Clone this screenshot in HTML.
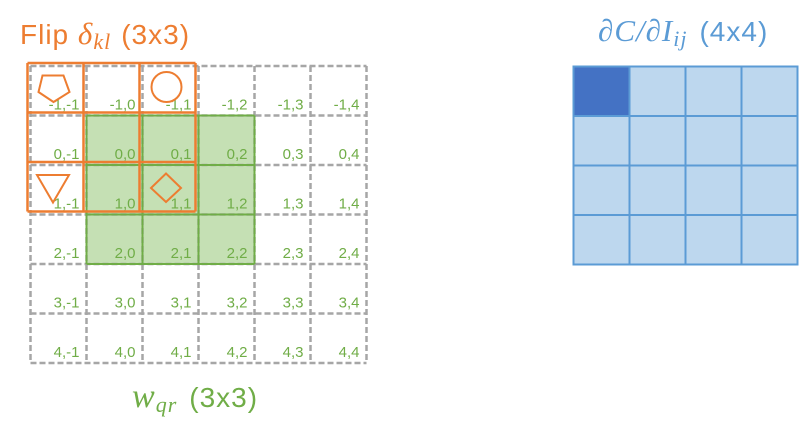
<!DOCTYPE html>
<html><head><meta charset="utf-8"><style>
html,body{margin:0;padding:0;background:#fff;}
svg{display:block;}
text{font-family:"Liberation Sans",sans-serif;}
</style></head><body>
<svg width="800" height="434" viewBox="0 0 800 434">
<g id="green-fill"></g>
<g id="dashed"></g>
<g id="green-lines"></g>
<g id="labels"></g>
<g id="orange"></g>
<g fill="none" stroke="#ed7d31" stroke-width="2">
  <polygon points="42.5,75.5 63.5,75.5 69.5,92 53.5,102 38.5,92"/>
  <circle cx="166.5" cy="87" r="15"/>
  <polygon points="37,175 69,175 53,202.5"/>
  <polygon points="166,173.5 181,188 166,202 151,188"/>
</g>
<g id="blue"></g>
<text x="20" y="44" font-size="28" fill="#ed7d31" letter-spacing="1">Flip <tspan font-family="Liberation Serif" font-style="italic" font-size="31">δ</tspan><tspan font-family="Liberation Serif" font-style="italic" font-size="22" dy="5">kl</tspan><tspan dy="-5" dx="10">(3x3)</tspan></text>
<text x="598" y="41" font-size="28" fill="#5b9bd5" letter-spacing="1"><tspan font-family="Liberation Serif" font-style="italic" font-size="31">∂C/∂I</tspan><tspan font-family="Liberation Serif" font-style="italic" font-size="22" dy="5">ij</tspan><tspan dy="-5" dx="12">(4x4)</tspan></text>
<text x="132" y="407" font-size="28" fill="#70ad47" letter-spacing="1"><tspan font-family="Liberation Serif" font-style="italic" font-size="34">w</tspan><tspan font-family="Liberation Serif" font-style="italic" font-size="22" dy="5">qr</tspan><tspan dy="-5" dx="12">(3x3)</tspan></text>
</svg>
<script>
const NS='http://www.w3.org/2000/svg';
const rows=[-1,0,1,2,3,4];
const cols=[-1,0,1,2,3,4];
const x0=30.5,y0=66,cw=56,ch=49.5;
function mk(tag,attrs,parent){const e=document.createElementNS(NS,tag);for(const k in attrs)e.setAttribute(k,attrs[k]);parent.appendChild(e);return e;}
const gf=document.getElementById('green-fill'),gd=document.getElementById('dashed'),gl=document.getElementById('green-lines'),lb=document.getElementById('labels'),go=document.getElementById('orange'),gb=document.getElementById('blue');
const r=mk('rect',{x:x0+cw,y:y0+ch,width:3*cw,height:3*ch,fill:'#c5e0b4'},gf);


for(let i=0;i<=6;i++){
  const a=mk('line',{x1:x0+i*cw,y1:y0,x2:x0+i*cw,y2:y0+6*ch,stroke:'#a6a6a6','stroke-width':2.5,'stroke-dasharray':'6,3'},gd);
  
  
  const b=mk('line',{x1:x0,y1:y0+i*ch,x2:x0+6*cw,y2:y0+i*ch,stroke:'#a6a6a6','stroke-width':2.5,'stroke-dasharray':'6,3'},gd);
  
  
}
for(let i=0;i<=3;i++){
  const a=mk('line',{x1:x0+(1+i)*cw,y1:y0+ch,x2:x0+(1+i)*cw,y2:y0+4*ch,stroke:'#70ad47','stroke-width':2},gl);
  
  
  const b=mk('line',{x1:x0+cw,y1:y0+(1+i)*ch,x2:x0+4*cw,y2:y0+(1+i)*ch,stroke:'#70ad47','stroke-width':2},gl);
  
  
}
rows.forEach((rv,ri)=>cols.forEach((cv,ci)=>{
  const t=mk('text',{x:x0+(ci+1)*cw-7,y:y0+(ri+1)*ch-6,'text-anchor':'end','font-size':15,fill:'#70ad47'},lb);
  t.textContent=rv+','+cv;
  
  
}));
const ox=27.5,oy=63;
for(let i=0;i<=3;i++){
  const a=mk('line',{x1:ox+i*cw,y1:oy,x2:ox+i*cw,y2:oy+3*ch,stroke:'#ed7d31','stroke-width':2.5},go);
  
  
  const b=mk('line',{x1:ox,y1:oy+i*ch,x2:ox+3*cw,y2:oy+i*ch,stroke:'#ed7d31','stroke-width':2.5},go);
  
  
}
const bx=573.5,by=66.5;
for(let i=0;i<4;i++)for(let j=0;j<4;j++){
  const c=mk('rect',{x:bx+j*cw,y:by+i*ch,width:cw,height:ch,fill:(i==0&&j==0)?'#4472c4':'#bdd7ee',stroke:'#5b9bd5','stroke-width':2},gb);
  
  
}
</script>
</body></html>
